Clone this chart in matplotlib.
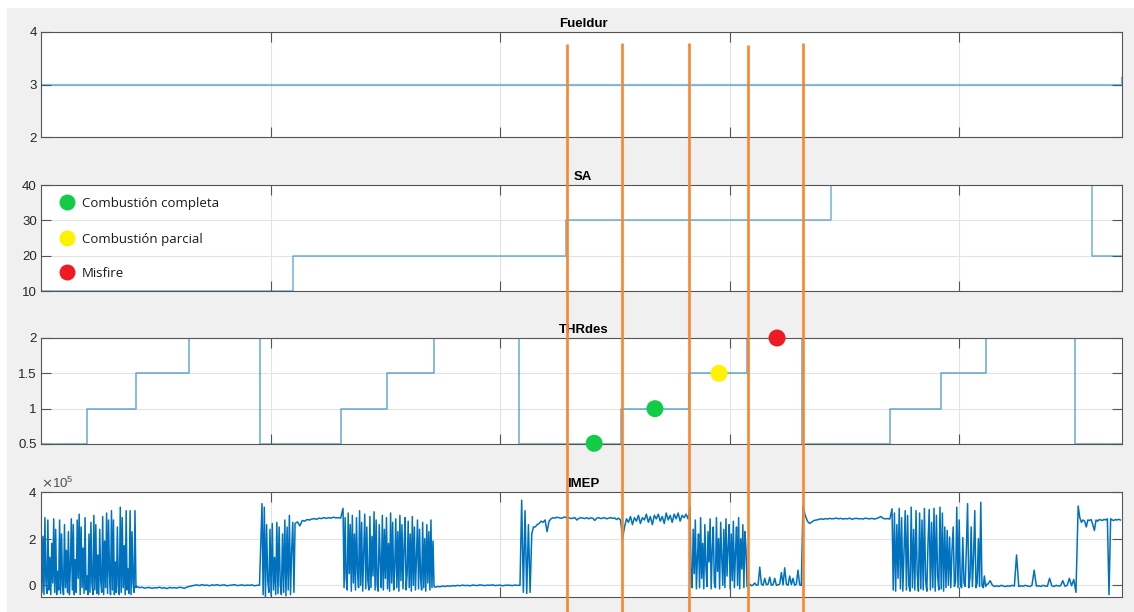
import numpy as np
import matplotlib
matplotlib.use("Agg")
import matplotlib.pyplot as plt
from matplotlib.lines import Line2D
from matplotlib.patches import Rectangle
from matplotlib.transforms import blended_transform_factory

# ---------------- data ----------------
titles = ["Fueldur", "SA", "THRdes", "IMEP"]

fuel_t = [0, 470.5, 471]
fuel_v = [3, 3, 3.12]

sa_t = [0, 109.8, 228.8, 344.2, 458.0, 471]
sa_v = [10, 20, 30, 40, 20, 20]

thr_t = [0, 20.0, 41.4, 64.5, 95.4, 130.7, 150.8, 171.2, 208.3, 252.7,
         282.4, 307.6, 331.6, 369.9, 392.2, 411.8, 450.5, 471]
thr_v = [0.5, 1.0, 1.5, 2.0, 0.5, 1.0, 1.5, 2.0, 0.5, 1.0,
         1.5, 2.0, 0.5, 1.0, 1.5, 2.0, 0.5, 0.5]

# IMEP (x1e5), recorded segment by segment (uniform sampling inside each segment)
imep_bounds = [0, 41.8, 96.3, 110.7, 131.6, 171.7, 208.7, 215.3, 282.8,
               308.1, 332.0, 370.8, 412.6, 451.9, 471.0]
imep_s1 = [2.95, -0.3, 2.1, -0.4, 2.9, 0.2, -0.35, 2.8, -0.2, 1.2, -0.4, 1.8, 0.1, 2.85, -0.3, 2.4,
           -0.4, 0.6, -0.2, 2.8, -0.35, 2.2, 0.0, -0.4, 2.6, -0.1, 1.5, -0.3, 2.3, -0.4, 0.8, 2.85,
           -0.2, 2.6, -0.4, 1.1, -0.3, 2.8, 0.3, 3.05, -0.4, 2.5, -0.1, 1.6, -0.35, 2.9, -0.2, 0.4,
           -0.4, 2.2, -0.3, 2.7, 0.1, -0.4, 3.0, -0.2, 2.6, -0.35, 1.3, -0.4, 2.4, 0.2, -0.3, 2.95,
           -0.4, 1.9, -0.1, 3.1, -0.35, 2.8, 0.5, -0.4, 3.2, -0.2, 2.8, -0.4, 1.0, -0.3, 2.5, 0.0,
           -0.4, 3.35, -0.3, 2.9, -0.1, 1.7, -0.4, 3.2, -0.2, 0.7, -0.35, 3.2, -0.4, 2.3, 0.1, -0.3,
           3.2, -0.1]
imep_s2 = [-0.05, -0.1, -0.08, -0.12, -0.1, -0.09, -0.13, -0.1, -0.11, -0.08, -0.12, -0.1, -0.14,
           -0.09, -0.11, -0.1, -0.12, -0.08, -0.1, -0.13, -0.07, -0.05, -0.02, 0.0, 0.02, -0.01,
           0.03, 0.0, 0.01, -0.02, 0.02, 0.0, 0.03, -0.01, 0.01, 0.02, -0.02, 0.0, 0.01, 0.03,
           -0.01, 0.0, 0.02, -0.01, 0.01, 0.0, 0.02, -0.02, 0.0, 0.01]
imep_s3 = [3.5, -0.4, 3.35, -0.5, 2.6, 0.2, -0.3, 2.4, -0.45, 2.65, -0.2, 1.2, -0.4, 2.7, -0.35,
           2.5, 0.0, -0.4, 2.2, -0.3, 2.8, -0.45, 2.5, -0.2, 3.0, -0.4, 1.5, 2.7, -0.3]
imep_s4 = [2.65, 2.72, 2.55, 2.78, 2.75, 2.82, 2.8, 2.84, 2.86, 2.83, 2.88, 2.86, 2.9, 2.87, 2.9,
           2.88, 2.92, 2.89, 2.9, 2.88]
imep_s5 = [3.3, -0.1, 2.9, 0.3, -0.2, 3.1, 0.5, 2.6, -0.25, 3.0, 0.1, 2.2, -0.2, 2.9, 0.6, -0.1,
           3.2, 0.0, 2.7, -0.25, 1.4, 3.05, -0.15, 2.5, 0.2, -0.2, 2.95, -0.1, 2.1, 0.4, 3.15, -0.2,
           2.8, 0.0, -0.25, 2.6, 1.0, -0.1, 3.0, -0.2, 2.4, 0.3, 2.9, -0.15, 1.8, -0.25, 3.1, 0.1,
           2.7, -0.2, 0.8, 2.85, -0.1, 2.3, -0.25, 3.0, 0.2, 2.6, -0.15, 1.6, 2.9, -0.2, 0.5, 2.75,
           -0.1, 2.2, -0.25, 2.95, 0.0, 2.5, -0.2, 1.2, 2.8, -0.15, 2.4, 0.3, -0.2, 2.7, -0.1, 2.0,
           -0.25, 2.6, 0.1, 2.3, -0.2, 2.8, -0.1, 1.9, -0.05]
imep_s6 = [-0.08, -0.05, -0.06, -0.03, -0.05, -0.02, -0.04, -0.01, -0.03, 0.0, -0.02, 0.01, -0.01,
           0.0, -0.02, 0.01, 0.0, -0.01, 0.02, 0.0, -0.01, 0.01, 0.0, 0.02, -0.01, 0.0, 0.01,
           -0.02, 0.0, 0.01, 0.0, -0.01, 0.01, 0.0]
imep_s7 = [0.0, 3.65, -0.3, 3.2, -0.35, 2.6, -0.3, 2.2, 2.5]
imep_s8 = [2.5, 2.6, 2.65, 2.75, 2.7, 2.8, 2.3, 2.75, 2.85, 2.9, 2.88, 2.92, 2.9, 2.87, 2.9, 2.93,
           2.88, 2.9, 2.86, 2.88, 2.9, 2.8, 2.87, 2.9, 2.88, 2.86, 2.9, 2.85, 2.89, 2.88, 2.78, 2.88,
           2.9, 2.86, 2.88, 2.9, 2.85, 2.88, 2.9, 2.87, 2.89, 2.82, 2.88, 2.8, 2.0, 2.5, 2.85, 2.7,
           2.95, 2.6, 2.9, 2.75, 3.0, 2.65, 2.9, 2.8, 3.05, 2.7, 2.95, 2.6, 3.0, 2.85, 3.05, 2.75,
           2.95, 2.65, 3.1, 2.8, 3.0, 2.7, 3.05, 2.85, 3.1, 2.75, 3.0, 2.9, 3.05, 2.85]
imep_s9 = [3.35, 0.2, -0.1, 2.4, 0.5, 2.8, -0.15, 1.2, 2.2, -0.1, 2.9, 0.3, 1.8, -0.15, 2.6, 0.8,
           -0.05, 2.3, 1.0, 2.85, -0.15, 1.5, 2.5, 0.1, -0.1, 2.9, 0.6, 2.0, -0.15, 2.7, 1.2, 0.0,
           2.4, -0.1, 2.85, 0.4, 1.6, 2.6, -0.15, 2.2, 0.2, 2.75, -0.1, 1.4, 2.5, 0.0, 2.9, -0.15,
           2.0, 0.7, 2.6, -0.1, 2.3, 1.5, -0.05]
imep_s10 = [0.0, 0.05, -0.02, 0.02, 0.1, 0.0, 0.02, 0.78, 0.05, 0.0, 0.3, 0.02, 0.05, 0.35, 0.0,
            0.03, 0.3, 0.0, 0.02, 0.05, 0.55, 0.02, 0.75, 0.05, 0.0, 0.4, 0.03, 0.3, 0.0, 0.05,
            0.65, 0.02, 0.0]
imep_s11 = [3.4, 3.0, 2.75, 2.65, 2.72, 2.78, 2.8, 2.82, 2.85, 2.83, 2.86, 2.84, 2.87, 2.85, 2.86,
            2.88, 2.85, 2.87, 2.84, 2.86, 2.85, 2.88, 2.83, 2.86, 2.87, 2.85, 2.86, 2.84, 2.88,
            2.86, 2.85, 2.87, 2.84, 2.86, 2.9, 2.95, 2.87, 2.85, 2.86, 2.84]
imep_s12 = [3.28, -0.2, 3.1, -0.25, 2.6, 0.3, 3.3, -0.15, 2.9, -0.25, 1.5, 3.2, -0.2, 3.0, 0.0,
            -0.25, 3.35, -0.1, 2.4, -0.2, 3.2, 0.5, -0.25, 3.1, -0.15, 2.8, -0.2, 3.3, 0.2, -0.25,
            1.8, 3.25, -0.2, 2.7, -0.1, 3.3, -0.25, 3.0, 0.4, -0.2, 3.35, -0.15, 3.1, -0.25, 2.5,
            -0.1, 2.35, 0.0, 2.07, -0.1, 1.5, 2.5, -0.05, 0.2, 3.35, -0.1, 2.8, 0.0, -0.1, 2.05,
            0.1, -0.05, 1.6, 3.5, -0.1, 0.3, 2.5, -0.05, 1.2, 3.2, -0.1, 0.1, 2.0, -0.05, 3.56,
            0.0, -0.1, 0.4, -0.05, 0.05]
imep_s13 = [0.05, 0.2, 0.0, -0.05, -0.02, -0.05, 0.0, -0.03, -0.05, -0.02, -0.04, 0.0, -0.03, 1.3,
            -0.05, -0.02, -0.04, 0.0, -0.03, -0.05, 0.0, 0.65, -0.03, -0.02, -0.05, 0.0, -0.03,
            -0.04, 0.3, -0.02, -0.05, 0.0, -0.03, -0.02, 0.2, -0.04, 0.0, 0.3, -0.02, 0.25, -0.3]
imep_s14 = [3.4, 2.9, 2.7, 2.8, 2.75, 2.5, 2.8, 2.78, 2.82, 2.6, 2.35, 2.8, 2.75, 2.82, 2.8, 2.78,
            2.83, 2.8, 2.85, -0.4, 2.85, 2.8, 2.78, 2.82, 2.8, 2.83, 2.8]
imep_segments = [imep_s1, imep_s2, imep_s3, imep_s4, imep_s5, imep_s6, imep_s7, imep_s8,
                 imep_s9, imep_s10, imep_s11, imep_s12, imep_s13, imep_s14]

# markers on THRdes and event lines
dot_t = [241.0, 267.5, 295.4, 320.7]
dot_v = [0.51, 1.0, 1.5, 2.0]
dot_c = ["#12CC48", "#12CC48", "#FFF200", "#ED1C24"]
event_t = [229.2, 253.2, 282.4, 308.1, 332.0]
event_top = [0.928, 0.9297, 0.9297, 0.9265, 0.9297]

legend_labels = ["Combustión completa", "Combustión parcial", "Misfire"]
legend_colors = ["#12CC48", "#FFF200", "#ED1C24"]

fuel_ticks = [2, 3, 4]
sa_ticks = [10, 20, 30, 40]
thr_ticks = [0.5, 1, 1.5, 2]
thr_ticklabels = ["0.5", "1", "1.5", "2"]
imep_ticks = [0, 2e5, 4e5]
x_ticks = [100, 200, 300, 400]

# ---------------- figure ----------------
W, H = 1134, 612
fig = plt.figure(figsize=(W / 100, H / 100), dpi=100, facecolor="white")
fig.add_artist(Rectangle((7 / W, 0), 1, (H - 8) / H, transform=fig.transFigure,
                         facecolor="#F0F0F0", edgecolor="none", zorder=-10))

left = 41 / W
width = (1122 - 41) / W
rows = [(32, 137), (185, 291), (338, 444), (492, 597)]
axes = []
for (top, bot) in rows:
    ax = fig.add_axes([left, 1 - bot / H, width, (bot - top) / H])
    axes.append(ax)

LINE = "#0072BD"
TICKFS = 9.5
for ax, title in zip(axes, titles):
    ax.set_facecolor("white")
    ax.set_xlim(0, 471)
    ax.set_xticks(x_ticks)
    ax.grid(True, color="#E3E3E3", lw=0.8)
    ax.set_axisbelow(True)
    ax.tick_params(direction="in", length=7.2, width=0.8, color="#555555",
                   top=True, right=True, labelbottom=False,
                   labelsize=TICKFS, labelcolor="#262626", pad=3)
    for s in ax.spines.values():
        s.set_color("#555555")
        s.set_linewidth(0.8)
    ax.set_title(title, fontweight="bold", fontsize=9.5, pad=3.5, x=0.5016,
                 family="Liberation Sans", color="black")

ax1, ax2, ax3, ax4 = axes

ax1.plot(fuel_t, fuel_v, color=LINE, lw=1.6, alpha=0.45, drawstyle="steps-post")
ax1.set_ylim(2, 4)
ax1.set_yticks(fuel_ticks)

ax2.plot(sa_t, sa_v, color=LINE, lw=1.1, alpha=0.55, drawstyle="steps-post")
ax2.set_ylim(10, 40)
ax2.set_yticks(sa_ticks)

ax3.plot(thr_t, thr_v, color=LINE, lw=1.1, alpha=0.6, drawstyle="steps-post")
ax3.set_ylim(0.5, 2)
ax3.set_yticks(thr_ticks)
ax3.set_yticklabels(thr_ticklabels)
ax3.scatter(dot_t, dot_v, s=150, c=dot_c, edgecolors="none", zorder=5, clip_on=False)

imep_t = []
imep_v = []
for i, seg in enumerate(imep_segments):
    t = np.linspace(imep_bounds[i], imep_bounds[i + 1], len(seg), endpoint=False)
    imep_t.extend(t)
    imep_v.extend(seg)
imep_t = np.array(imep_t)
imep_v = np.array(imep_v) * 1e5
ax4.plot(imep_t, imep_v, color=LINE, lw=1.1)
ax4.set_ylim(-0.5e5, 4e5)
ax4.set_yticks(imep_ticks)
ax4.ticklabel_format(axis="y", style="sci", scilimits=(0, 0), useMathText=True)
ax4.yaxis.get_offset_text().set_fontsize(TICKFS)
ax4.yaxis.get_offset_text().set_color("#4D4D4D")
ax4.yaxis.get_offset_text().set_family("Liberation Sans")
for ax in axes:
    for lab in ax.get_yticklabels():
        lab.set_family("Liberation Sans")

# legend inside SA panel
leg_y = [0.84, 0.5, 0.179]
for lab, col, yy in zip(legend_labels, legend_colors, leg_y):
    ax2.plot([0.024], [yy], marker="o", ms=11.5, color=col, mec="none",
             transform=ax2.transAxes, clip_on=False, zorder=6)
    ax2.text(0.038, yy - 0.01, lab, transform=ax2.transAxes, va="center", ha="left",
             fontsize=9.5, family="Open Sans", color="#1A1A1A", zorder=6)

# orange event lines spanning the figure
trans = blended_transform_factory(ax4.transData, fig.transFigure)
for t, top in zip(event_t, event_top):
    fig.add_artist(Line2D([t, t], [0, top], transform=trans, color="#F7862E",
                          lw=1.9, zorder=20, solid_capstyle="butt"))

fig.savefig("out.png", dpi=100, facecolor=fig.get_facecolor())
